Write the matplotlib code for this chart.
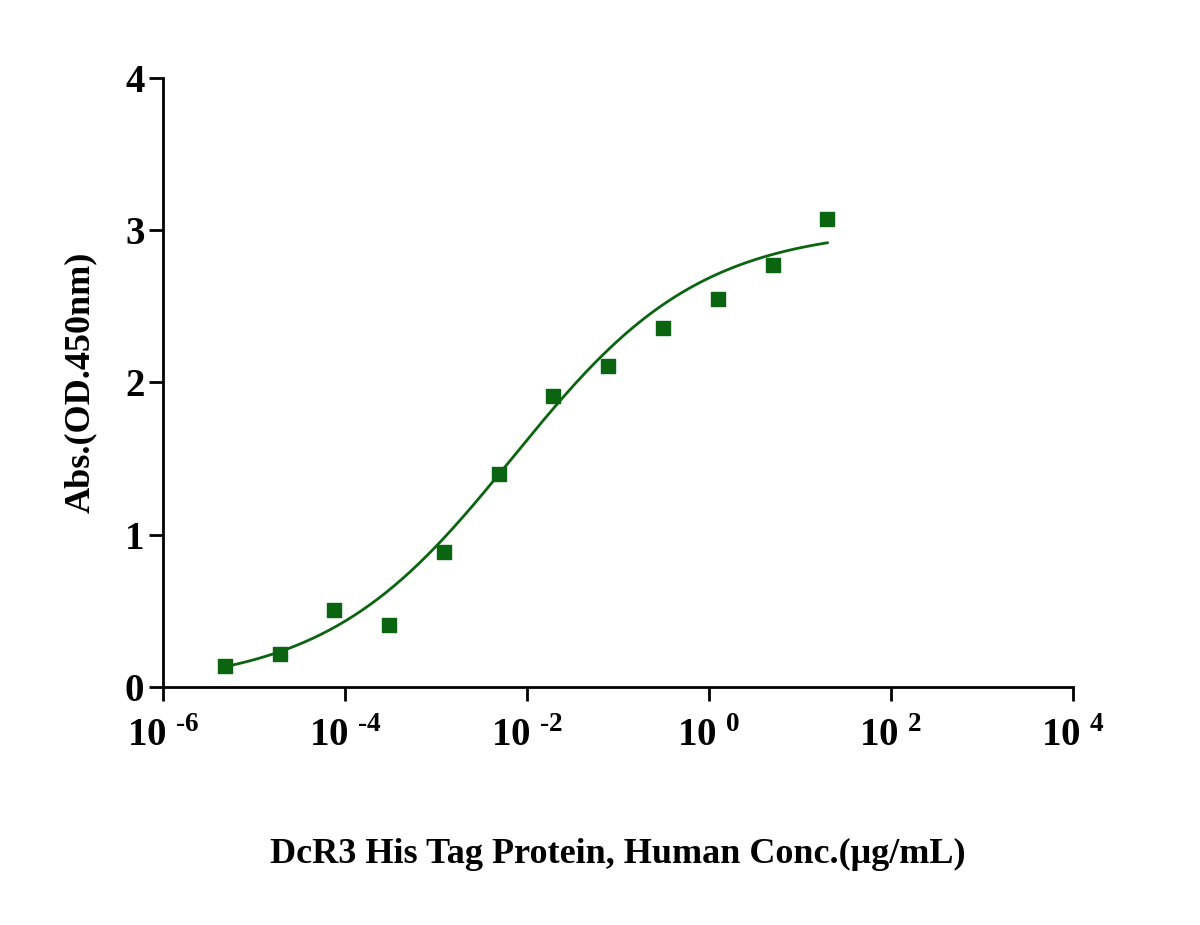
import matplotlib
matplotlib.use('Agg')
import matplotlib.pyplot as plt
import numpy as np

plt.rcParams['font.family'] = 'Liberation Serif'
plt.rcParams['font.weight'] = 'bold'
plt.rcParams['mathtext.fontset'] = 'custom'
plt.rcParams['mathtext.rm'] = 'Liberation Serif:bold'
plt.rcParams['mathtext.bf'] = 'Liberation Serif:bold'

conc = [20 / 4 ** k for k in range(12)][::-1]
absorb = [0.14, 0.22, 0.51, 0.41, 0.89, 1.40, 1.91, 2.11, 2.36, 2.55, 2.77, 3.07]

# 4PL fit parameters (bottom, top, ec50, hill)
bottom, top, ec50, hill = 0.0, 3.02, 0.007, 0.42

green = '#0a6410'
fig = plt.figure(figsize=(12, 9.25), dpi=100)
ax = fig.add_axes([0.136, 0.257, 0.758, 0.659])

xf = np.logspace(np.log10(conc[0]), np.log10(conc[-1]), 300)
yf = bottom + (top - bottom) / (1 + (ec50 / xf) ** hill)
ax.plot(xf, yf, color=green, lw=2)
ax.scatter(conc, absorb, marker='s', s=90, color=green, zorder=3)

ax.set_xscale('log')
ax.set_xlim(1e-6, 1e4)
ax.set_ylim(0, 4)
ax.set_xticks([1e-6, 1e-4, 1e-2, 1e0, 1e2, 1e4])
ax.set_xticklabels([r'$10^{\ \text{-6}}$', r'$10^{\ \text{-4}}$', r'$10^{\ \text{-2}}$',
                    r'$10^{\ 0}$', r'$10^{\ 2}$', r'$10^{\ 4}$'])
ax.xaxis.set_minor_locator(matplotlib.ticker.NullLocator())
ax.set_yticks([0, 1, 2, 3, 4])
for s in ['top', 'right']:
    ax.spines[s].set_visible(False)
for s in ['left', 'bottom']:
    ax.spines[s].set_linewidth(2)
ax.tick_params(width=2, length=10, labelsize=28)
ax.tick_params(axis='x', pad=12)
ax.set_xlabel('DcR3 His Tag Protein, Human Conc.(μg/mL)', fontsize=26, fontweight='bold', labelpad=60)
ax.set_ylabel('Abs.(OD.450nm)', fontsize=26, fontweight='bold', labelpad=20)

fig.savefig('out.png', dpi=100)
